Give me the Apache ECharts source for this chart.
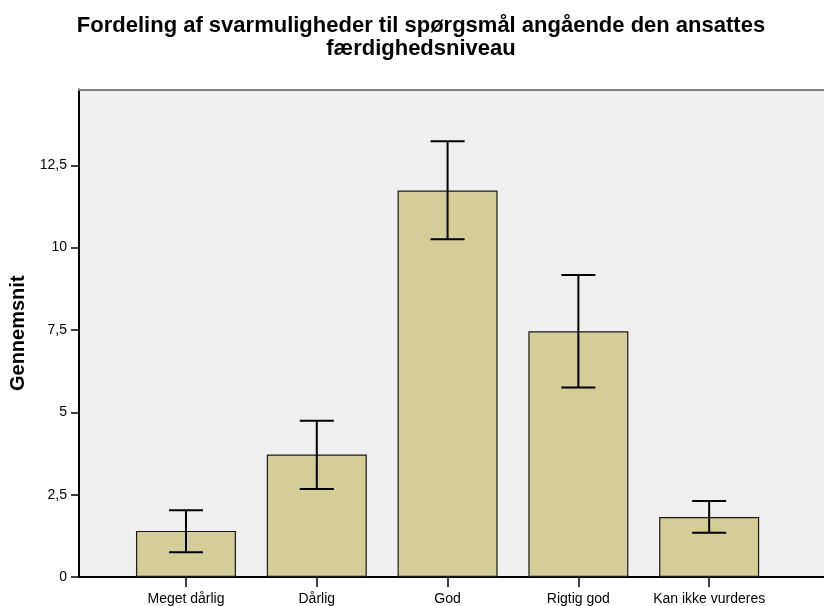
<!DOCTYPE html>
<html><head><meta charset="utf-8">
<script src="https://cdn.jsdelivr.net/npm/echarts@6/dist/echarts.min.js"></script>
<style>html,body{margin:0;padding:0;background:#fff}#c{width:824px;height:606px}</style>
</head><body><div id="c"></div>
<script>
const categories = ["Meget dårlig", "Dårlig", "God", "Rigtig god", "Kan ikke vurderes"];
const means = [1.40, 3.72, 11.73, 7.46, 1.82];
const ciLow = [0.75, 2.67, 10.25, 5.75, 1.34];
const ciHigh = [2.03, 4.74, 13.23, 9.17, 2.31];
const yTicks = [0, 2.5, 5, 7.5, 10, 12.5];
const title = "Fordeling af svarmuligheder til spørgsmål angående den ansattes\nfærdighedsniveau";
const yName = "Gennemsnit";

const idx = categories.map((c, i) => i);
const chart = echarts.init(document.getElementById('c'), null, {renderer: 'canvas'});
const font = "'Liberation Sans', Arial, sans-serif";
chart.setOption({
  animation: false,
  title: {
    text: title, left: 416, top: 9, textAlign: 'center',
    textStyle: {fontFamily: font, fontSize: 22, fontWeight: 'bold', color: '#000', lineHeight: 23, align: 'center'}
  },
  grid: {left: 79, right: 0, top: 89.5, bottom: 29, show: true, backgroundColor: '#efefef', borderWidth: 0},
  xAxis: [{
    type: 'value', min: -0.818, max: 4.878,
    axisLine: {show: true, onZero: false, lineStyle: {color: '#000', width: 2}},
    axisTick: {show: true, length: 10, inside: false, customValues: idx, lineStyle: {color: '#000', width: 1.5}},
    axisLabel: {show: true, customValues: idx, formatter: v => categories[Math.round(v)], fontFamily: font, fontSize: 14, color: '#000', margin: 15},
    splitLine: {show: false}
  }, {
    type: 'value', position: 'top', min: -0.818, max: 4.878,
    axisLine: {show: true, onZero: false, lineStyle: {color: '#808080', width: 2}},
    axisTick: {show: false}, axisLabel: {show: false}, splitLine: {show: false}
  }],
  yAxis: {
    type: 'value', min: 0, max: 14.8,
    name: yName, nameLocation: 'middle', nameGap: 48, nameRotate: 90,
    nameTextStyle: {fontFamily: font, fontSize: 20, fontWeight: 'bold', color: '#000'},
    axisLine: {show: true, onZero: false, lineStyle: {color: '#000', width: 2}},
    axisTick: {show: true, length: 8, customValues: yTicks, lineStyle: {color: '#000', width: 1.5}},
    axisLabel: {customValues: yTicks, formatter: v => String(v).replace('.', ','), fontFamily: font, fontSize: 14, color: '#000', margin: 12},
    splitLine: {show: false}
  },
  series: [{
    type: 'bar', xAxisIndex: 0,
    data: idx.map(i => [i, means[i]]),
    barWidth: 100,
    itemStyle: {color: '#d3ce97', borderColor: '#1a1a1a', borderWidth: 1.2}
  }, {
    type: 'custom', xAxisIndex: 0,
    data: idx.map(i => [i, ciLow[i], ciHigh[i]]),
    encode: {x: 0, y: [1, 2]},
    z: 10,
    renderItem: function (params, api) {
      const x = api.value(0);
      const lo = api.coord([x, api.value(1)]);
      const hi = api.coord([x, api.value(2)]);
      const hw = 17;
      const st = {stroke: '#000', lineWidth: 2};
      return {type: 'group', children: [
        {type: 'line', shape: {x1: lo[0], y1: lo[1], x2: hi[0], y2: hi[1]}, style: st},
        {type: 'line', shape: {x1: hi[0] - hw, y1: hi[1], x2: hi[0] + hw, y2: hi[1]}, style: st},
        {type: 'line', shape: {x1: lo[0] - hw, y1: lo[1], x2: lo[0] + hw, y2: lo[1]}, style: st}
      ]};
    }
  }]
});
</script></body></html>
